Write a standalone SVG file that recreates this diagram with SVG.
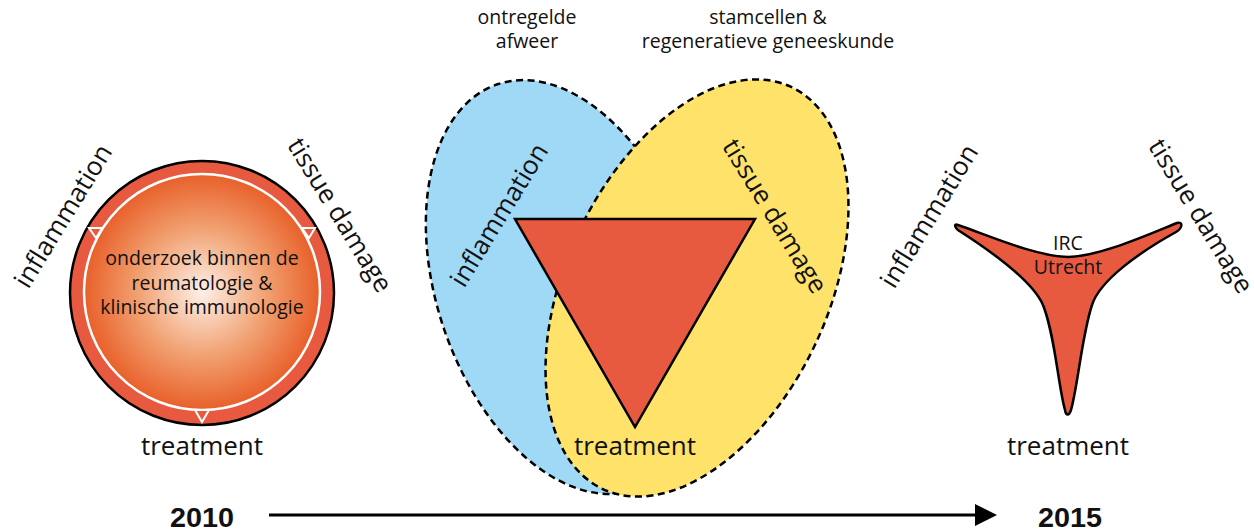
<svg xmlns="http://www.w3.org/2000/svg" width="1254" height="531" viewBox="0 0 1254 531">
<defs>
<radialGradient id="sun" cx="0.5" cy="0.5" r="0.5">
<stop offset="0" stop-color="#fdf0e8"/>
<stop offset="0.55" stop-color="#f1a070"/>
<stop offset="1" stop-color="#e8602a"/>
</radialGradient>
<style>
text{font-family:"Open Sans","Noto Sans","DejaVu Sans",sans-serif;fill:#111}
.lbl{font-size:26px;text-anchor:middle}
.sm{font-size:19.5px;text-anchor:middle}
.yr{font-family:"Liberation Sans",Arial,sans-serif;font-weight:bold;font-size:27px;text-anchor:middle}
.red{fill:#e85a40;stroke:#000;stroke-width:2.5}
.dash{stroke:#000;stroke-width:2.5;stroke-dasharray:7 4.5}
.mk{fill:#e85a40;stroke:#fff;stroke-width:2;stroke-linejoin:miter}
</style>
</defs>
<rect width="1254" height="531" fill="#fff"/>

<g id="left-circle">
<circle cx="202" cy="293" r="132" class="red"/>
<circle cx="202" cy="292" r="118" fill="url(#sun)" stroke="#fff" stroke-width="2.5"/>
<polygon class="mk" points="89,228 102,228 96,238"/>
<polygon class="mk" points="302,228 315,228 309,238"/>
<polygon class="mk" points="195,410 209,410 202,422"/>
<text class="sm" x="202" y="265">onderzoek binnen de</text>
<text class="sm" x="202" y="290">reumatologie &amp;</text>
<text class="sm" x="202" y="314">klinische immunologie</text>
</g>
<g id="left-labels">
<text class="lbl" transform="translate(63,216) rotate(-58.5)" y="9">inflammation</text>
<text class="lbl" transform="translate(340,215) rotate(58.5)" y="9">tissue damage</text>
<text class="lbl" x="202" y="455">treatment</text>
</g>

<g id="middle-venn">
<ellipse id="blue" cx="566" cy="287" rx="129" ry="214" transform="rotate(-18.7 566 287)" fill="#a0d9f6" class="dash"/>
<ellipse id="yellow" cx="697" cy="288" rx="131" ry="222" transform="rotate(25.1 697 288)" fill="#fee26a" class="dash"/>
<polygon class="red" points="515,219 755,219 635,427"/>
<text class="lbl" transform="translate(499,215) rotate(-58.5)" y="9">inflammation</text>
<text class="lbl" transform="translate(775,216) rotate(58.5)" y="9">tissue damage</text>
<text class="lbl" x="635" y="455">treatment</text>
<text class="sm" x="527" y="24">ontregelde</text>
<text class="sm" x="527" y="48">afweer</text>
<text class="sm" x="768" y="24">stamcellen &amp;</text>
<text class="sm" x="768" y="48">regeneratieve geneeskunde</text>
</g>

<g id="right-star">
<path class="red" d="M958,225 C990,236 1035,256 1068,257 C1100,256 1145,236 1177,223 C1183,221 1183,228 1176,232 C1140,252 1100,280 1092,305 C1082,335 1078,385 1071,410 C1069,416 1066,416 1065,410 C1058,385 1055,335 1043,305 C1032,280 992,252 961,232 C955,229 953,223 958,225 Z"/>
<text class="sm" x="1068" y="250">IRC</text>
<text class="sm" x="1068" y="274">Utrecht</text>
<text class="lbl" transform="translate(929,216) rotate(-58.5)" y="9">inflammation</text>
<text class="lbl" transform="translate(1201,216) rotate(58.5)" y="9">tissue damage</text>
<text class="lbl" x="1068" y="455">treatment</text>
</g>

<g id="timeline">
<text class="yr" x="202" y="527" textLength="64" lengthAdjust="spacingAndGlyphs">2010</text>
<text class="yr" x="1070" y="527" textLength="64" lengthAdjust="spacingAndGlyphs">2015</text>
</g>
<g id="connectors">
<line x1="269" y1="515" x2="976" y2="515" stroke="#000" stroke-width="3"/>
<polygon points="975,504 997,515 975,526" fill="#000"/>
</g>
</svg>
